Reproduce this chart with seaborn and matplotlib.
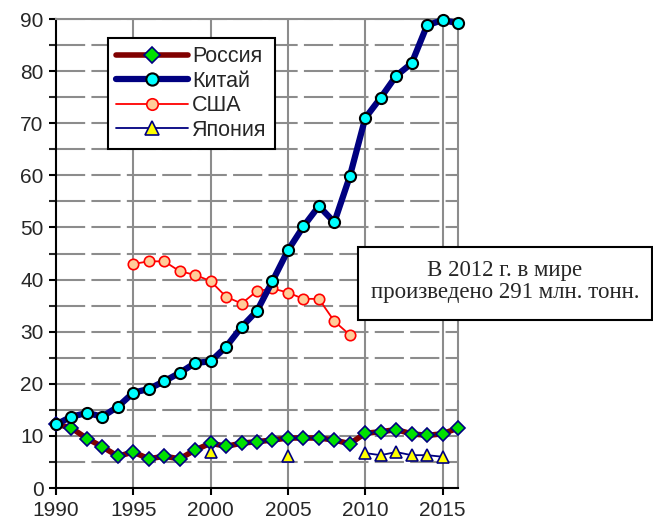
"""
Production by country 1990-2016 (mln tonnes), recreated with seaborn.
"""

import numpy as np
import pandas as pd
import matplotlib.pyplot as plt
import seaborn as sns
from matplotlib.lines import Line2D
from matplotlib.patches import Rectangle

sns.set_style("white")
plt.rcParams['font.family'] = ['Liberation Sans', 'DejaVu Sans']

years = list(range(1990, 2017))

russia = [12.3, 11.5, 9.5, 7.9, 6.1, 6.9, 5.6, 6.1, 5.6, 7.3, 8.6, 8.0, 8.6, 8.9,
          9.2, 9.6, 9.6, 9.6, 9.2, 8.5, 10.5, 10.8, 11.2, 10.4, 10.1, 10.4, 11.5]
china = [12.2, 13.7, 14.4, 13.7, 15.6, 18.3, 19.0, 20.5, 22.1, 24.0, 24.3, 27.1, 30.9, 34.0,
         39.7, 45.6, 50.2, 54.1, 51.0, 59.8, 71.0, 74.9, 79.1, 81.5, 88.8, 89.8, 89.2]
usa_years = list(range(1995, 2010))
usa = [43.0, 43.5, 43.5, 41.6, 40.9, 39.7, 36.7, 35.4, 37.8, 38.3, 37.5, 36.3, 36.3, 32.0, 29.4]
japan_years = [2000, 2005, 2010, 2011, 2012, 2013, 2014, 2015]
japan = [6.9, 6.2, 6.7, 6.3, 6.9, 6.3, 6.3, 6.0]
# separate segments: 2000 and 2005 are single points, 2010-2015 connected
japan_seg = [0, 1, 2, 2, 2, 2, 2, 2]

labels = ['Россия', 'Китай', 'США', 'Япония']
note = 'В 2012 г. в мире\nпроизведено 291 млн. тонн.'

fig = plt.figure(figsize=(6.53, 5.29), dpi=100)
ax = fig.add_axes([0.0858, 0.0775, 0.6156, 0.8865])

# grid
for x in range(1995, 2016, 5):
    ax.axvline(x, color='#8c8c8c', lw=1.5, zorder=0)
for y in range(5, 91, 5):
    ax.axhline(y, color='#8c8c8c', lw=1.5, dashes=(14, 3), zorder=0)

styles = {
    'Россия': dict(color='#800000', lw=4, marker='D', ms=7, mfc='#00e000', mec='#000080', mew=1.2),
    'Китай': dict(color='#000080', lw=4.5, marker='o', ms=8, mfc='#00ffff', mec='black', mew=1.5),
    'США': dict(color='#ff0000', lw=1.3, marker='o', ms=7.5, mfc='#ffcc99', mec='#ff0000', mew=1.2),
    'Япония': dict(color='#000080', lw=1.3, marker='^', ms=9, mfc='#ffff00', mec='#000080', mew=1.2),
}

df_ru = pd.DataFrame({'year': years, 'v': russia})
df_cn = pd.DataFrame({'year': years, 'v': china})
df_us = pd.DataFrame({'year': usa_years, 'v': usa})
df_jp = pd.DataFrame({'year': japan_years, 'v': japan, 'seg': japan_seg})

sns.lineplot(data=df_ru, x='year', y='v', ax=ax, clip_on=False, zorder=3, **styles['Россия'])
sns.lineplot(data=df_jp, x='year', y='v', units='seg', estimator=None, ax=ax,
             clip_on=False, zorder=3, **styles['Япония'])
sns.lineplot(data=df_us, x='year', y='v', ax=ax, clip_on=False, zorder=3, **styles['США'])
sns.lineplot(data=df_cn, x='year', y='v', ax=ax, clip_on=False, zorder=4, **styles['Китай'])

ax.set_xlim(1990, 2016)
ax.set_ylim(0, 90)
ax.set_xticks(range(1990, 2016, 5))
ax.set_yticks(range(0, 91, 10))
ax.set_yticks(range(5, 90, 10), minor=True)
ax.set_xlabel('')
ax.set_ylabel('')
ax.tick_params(axis='both', labelsize=15, direction='out', length=5, width=1.5,
               color='black', left=True, bottom=True, pad=4)
ax.tick_params(axis='y', which='minor', direction='out', length=5, width=1.5, left=True)
for side in ['left', 'bottom']:
    ax.spines[side].set_color('black')
    ax.spines[side].set_linewidth(1.5)
for side in ['top', 'right']:
    ax.spines[side].set_color('#8c8c8c')
    ax.spines[side].set_linewidth(1.5)

handles = [Line2D([], [], **styles[k]) for k in labels]
leg = ax.legend(handles, labels, loc='upper left', bbox_to_anchor=(0.129, 0.96),
                fontsize=15.5, handlelength=3.3, labelspacing=0.16, handletextpad=0.2,
                borderpad=0.4, borderaxespad=0, fancybox=False, framealpha=1,
                edgecolor='black', markerscale=1.1)
leg.get_frame().set_linewidth(1.5)

# note box
fig.patches.append(Rectangle((0.549, 0.396), 0.449, 0.137, transform=fig.transFigure,
                             facecolor='white', edgecolor='black', lw=1.5, zorder=5))
fig.text(0.773, 0.468, note, ha='center', va='center', fontsize=16.5,
         family=['Liberation Serif', 'DejaVu Serif'], linespacing=1.1, zorder=6)

plt.savefig('out.png', dpi=100)
plt.close()
